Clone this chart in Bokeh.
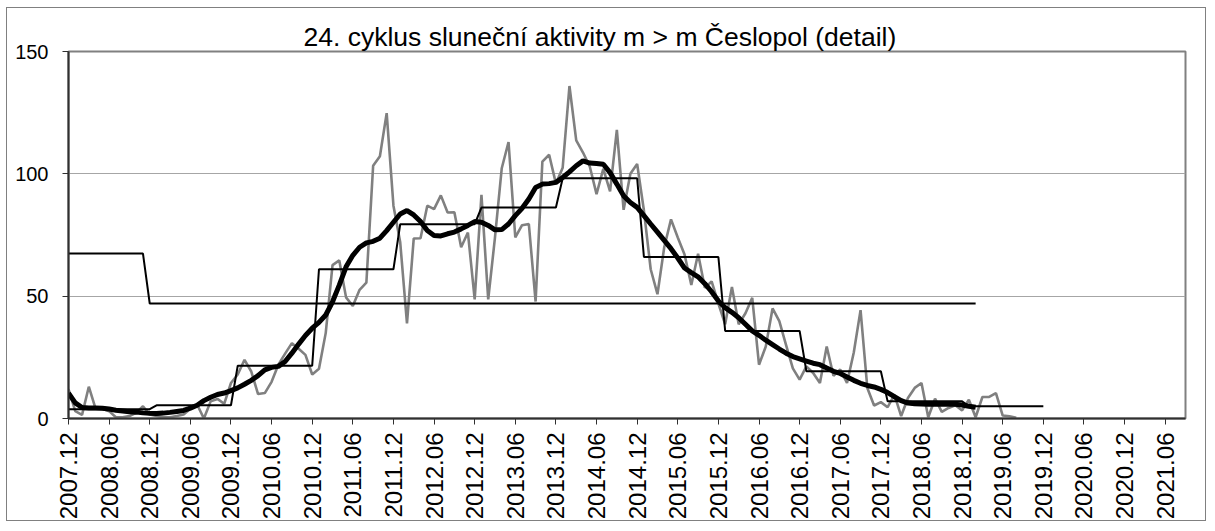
import math
from bokeh.plotting import figure
from bokeh.models import Range1d, FixedTicker, Title
from bokeh.embed import file_html
from bokeh.resources import INLINE

# ---- categories: monthly labels 2007.12 .. 2021.09 ----
months = []
yy, mm = 2007, 12
while (yy, mm) <= (2021, 9):
    months.append(f"{yy}.{mm:02d}")
    mm += 1
    if mm > 12:
        mm = 1
        yy += 1

# ---- monthly relative numbers (gray), 2007.12 .. 2019.08 ----
monthly = [12, 3, 1.5, 13, 4, 4, 3, 0.5, 0.5, 1, 2.3, 5, 1.6, 1, 0.5, 0.5, 1, 1.6, 4, 5.7,
           0, 7, 8, 6, 14.5, 18, 24, 19.2, 10, 10.4, 15, 22, 26.5, 30.8, 28.5, 26, 18, 20.3, 35, 62.7,
           64.6, 49.5, 46, 52.6, 55.5, 103.3, 107.2, 124.8, 87, 72, 38.9, 73.6, 73.7, 87, 85.6, 91.2, 84.2, 84.3, 70, 76,
           48.7, 91.4, 48.7, 74, 102.3, 113, 74, 79, 79.5, 47.8, 105, 107.8, 96, 102.5, 135.9, 113.7, 108.7, 103, 91.7, 102,
           92.8, 118, 85.3, 100, 104, 85, 61, 50.8, 70, 81.4, 74, 67, 54.6, 67.3, 53.4, 56, 47, 38.5, 53.8, 38.5,
           43, 49.3, 22, 29.4, 45, 39.8, 30, 20.5, 15.9, 21.3, 18.6, 14.5, 29.4, 17.5, 20, 14.5, 27, 44.3, 12.5, 5.3,
           6.7, 4.6, 9.8, 1, 8.4, 12.5, 14.5, 0.5, 8.1, 2.7, 4.3, 5.4, 3.3, 7.7, 0.5, 8.8, 8.8, 10.4, 1.2, 0.9,
           0.3]

# ---- smoothed values (thick black), 2007.12 .. 2019.02 ----
smoothed = [10.4, 6.4, 4.5, 4.3, 4.3, 4.2, 3.9, 3.4, 3.1, 2.8, 2.6, 2.3, 2.1, 2.0, 2.2, 2.5, 2.9, 3.3, 4.2, 5.4,
            7.3, 8.7, 9.8, 10.4, 11.4, 12.5, 14, 15.6, 17.5, 19.9, 20.9, 21.3, 23.3, 26.7, 30.4, 33.9, 36.9, 39.3, 42.3, 47.7,
            54.5, 62, 66.7, 70, 71.8, 72.4, 73.7, 76.8, 80.2, 83.6, 85, 83.2, 80.5, 76.8, 74.8, 74.6, 75.5, 76.2, 77.5, 78.9,
            80.5, 80.2, 78.9, 77.1, 77.2, 79.5, 82.9, 85.9, 89.7, 94.4, 95.8, 96, 96.5, 98.5, 100.8, 103.3, 105.3, 104.4, 104.2, 103.9,
            100.5, 95.8, 91, 88.3, 86.3, 82.9, 79.5, 76.2, 72.8, 69.4, 65.6, 61.5, 59.6, 57.9, 55.1, 51.8, 48, 45.3, 43.4, 41.2,
            38.5, 35.8, 34, 32, 30.2, 28.4, 26.7, 25.3, 24.4, 23.5, 22.6, 22, 20.6, 19.3, 18.4, 17, 15.6, 14.4, 13.5, 12.9,
            11.9, 10.6, 8.9, 7.3, 6.3, 6.0, 5.9, 5.8, 5.8, 5.8, 5.8, 5.8, 5.5, 5.0, 4.6]

# ---- yearly means (thin black steps) ----
years = [2007, 2008, 2009, 2010, 2011, 2012, 2013, 2014, 2015, 2016, 2017, 2018, 2019]
year_means = [3.8, 3.8, 5.4, 21.6, 61, 79.4, 86.2, 98.2, 66, 35.8, 19.3, 7.0, 5.0]

# ---- cycle means (thin black flat line) ----
cycle_names = ["23", "24"]
cycle_means = [67.4, 47]
cycle_first_month = ["2007.12", "2008.12"]
cycle_last_month = ["2008.11", "2019.02"]

FONT = "Liberation Sans"

p = figure(width=1200, height=514, output_backend="svg", toolbar_location=None,
           x_range=Range1d(0, len(months) - 1), y_range=Range1d(0, 150),
           min_border_left=61, min_border_right=22, min_border_top=43, min_border_bottom=102,
           background_fill_color="white", border_fill_color="white",
           styles={"border": "1px solid #808080", "margin-left": "6px", "margin-top": "7px"})

p.outline_line_color = "#808080"
p.outline_line_width = 2

p.line(list(range(len(monthly))), monthly, line_color="#808080", line_width=2.6)

step_idx = []
step_val = []
last_year_month = months.index("2019.12")
for i in range(last_year_month + 1):
    y = int(months[i][:4])
    step_idx.append(i)
    step_val.append(year_means[years.index(y)])
p.line(step_idx, step_val, line_color="black", line_width=2)

cx, cy = [], []
for f, l, v in zip(cycle_first_month, cycle_last_month, cycle_means):
    for i in range(months.index(f), months.index(l) + 1):
        cx.append(i)
        cy.append(v)
p.line(cx, cy, line_color="black", line_width=2)

p.line(list(range(len(smoothed))), smoothed, line_color="black", line_width=5)

# axes
p.yaxis.ticker = FixedTicker(ticks=[0, 50, 100, 150])
p.yaxis.minor_tick_line_color = None
p.yaxis.major_tick_out = 6
p.yaxis.major_tick_in = 0
p.yaxis.major_label_standoff = 14
p.yaxis.axis_line_color = "#303030"
p.yaxis.axis_line_width = 2
p.yaxis.major_tick_line_color = "#303030"
p.yaxis.major_label_text_font = FONT
p.yaxis.major_label_text_font_size = "20px"
p.yaxis.major_label_text_color = "black"

xt = list(range(0, len(months), 6))
p.xaxis.ticker = FixedTicker(ticks=xt)
p.xaxis.major_label_overrides = {i: months[i] for i in xt}
p.xaxis.minor_tick_line_color = None
p.xaxis.major_tick_out = 6
p.xaxis.major_tick_in = 0
p.xaxis.major_label_standoff = 8
p.xaxis.major_label_orientation = math.pi / 2
p.xaxis.axis_line_color = "#303030"
p.xaxis.axis_line_width = 2
p.xaxis.major_tick_line_color = "#303030"
p.xaxis.major_label_text_font = FONT
p.xaxis.major_label_text_font_size = "24px"
p.xaxis.major_label_text_color = "black"

p.xgrid.grid_line_color = None
p.ygrid.ticker = FixedTicker(ticks=[50, 100, 150])
p.ygrid.grid_line_color = "#a6a6a6"
p.ygrid.grid_line_width = 1

title = Title(text="24. cyklus sluneční aktivity m > m Česlopol (detail)",
              text_font=FONT, text_font_size="26.5px", text_font_style="normal",
              text_color="black", align="left", offset=235, standoff=0)
p.add_layout(title, "above")

open("out.html", "w").write(file_html(p, INLINE))
